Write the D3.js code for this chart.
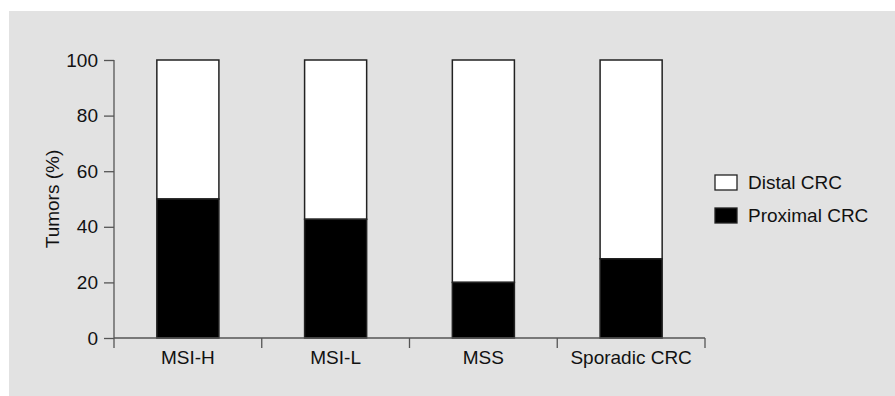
<!DOCTYPE html>
<html>
<head>
<meta charset="utf-8">
<script src="https://cdn.jsdelivr.net/npm/d3@7"></script>
<style>
  body { margin: 0; background: #fff; }
  text { font-family: "Liberation Sans", Arial, sans-serif; fill: #111; }
</style>
</head>
<body>
<div id="chart"></div>
<script>
// values (percent of tumors)
var groups = ["MSI-H", "MSI-L", "MSS", "Sporadic CRC"];
var proximal = [50, 42.7, 20, 28.5];
var distal = [50, 57.3, 80, 71.5];
var yTicks = [0, 20, 40, 60, 80, 100];
var seriesNames = ["Distal CRC", "Proximal CRC"];
var seriesColors = ["#fff", "#000"];

var width = 895, height = 396;
var fs = 19;
var svg = d3.select("#chart").append("svg")
    .attr("width", width)
    .attr("height", height);

// grey panel
svg.append("rect")
    .attr("x", 9).attr("y", 11)
    .attr("width", width - 9).attr("height", height - 11)
    .attr("fill", "#e2e2e2");

var x = d3.scaleBand().domain(groups).range([114, 705]).paddingInner(0.58).paddingOuter(0.29);
var xTicks = d3.scaleBand().domain(groups).range([114, 705]);
var y = d3.scaleLinear().domain([0, 100]).range([338, 60]);

// stacked data
var rows = groups.map(function (g, i) {
  return { group: g, prox: proximal[i], dist: distal[i] };
});

var bars = svg.append("g");
bars.selectAll(".dist")
    .data(rows)
    .enter().append("rect")
    .attr("x", d => x(d.group))
    .attr("width", x.bandwidth())
    .attr("y", d => y(d.prox + d.dist))
    .attr("height", d => y(d.prox) - y(d.prox + d.dist))
    .attr("fill", seriesColors[0])
    .attr("stroke", "#222")
    .attr("stroke-width", 1.5);
bars.selectAll(".prox")
    .data(rows)
    .enter().append("rect")
    .attr("x", d => x(d.group))
    .attr("width", x.bandwidth())
    .attr("y", d => y(d.prox))
    .attr("height", d => y(0) - y(d.prox))
    .attr("fill", seriesColors[1])
    .attr("stroke", "#222")
    .attr("stroke-width", 1.5);

// y axis
var yAxis = svg.append("g")
    .attr("transform", "translate(114,0)")
    .call(d3.axisLeft(y).tickValues(yTicks).tickSize(10).tickPadding(6));
yAxis.select(".domain").attr("d", "M0," + y(100) + "V" + (y(0) + 10));
yAxis.selectAll("line, path").attr("stroke", "#555").attr("stroke-width", 1.3);
yAxis.selectAll("text").attr("font-size", fs).attr("fill", "#111")
    .attr("font-family", "Liberation Sans, Arial, sans-serif");

// x axis: ticks at band boundaries
var xg = svg.append("g").attr("transform", "translate(0," + y(0) + ")");
xg.append("line")
    .attr("x1", 114).attr("x2", 705)
    .attr("stroke", "#555").attr("stroke-width", 1.3);
var edges = groups.map(g => xTicks(g)).concat([xTicks.range()[1]]);
xg.selectAll(".tk")
    .data(edges.slice(1))
    .enter().append("line")
    .attr("x1", d => d).attr("x2", d => d)
    .attr("y1", 0).attr("y2", 10)
    .attr("stroke", "#555").attr("stroke-width", 1.3);
xg.selectAll(".lbl")
    .data(groups)
    .enter().append("text")
    .attr("x", d => x(d) + x.bandwidth() / 2)
    .attr("y", 26)
    .attr("text-anchor", "middle")
    .attr("font-size", fs)
    .text(d => d);

// y label
svg.append("text")
    .attr("transform", "translate(59,199) rotate(-90)")
    .attr("text-anchor", "middle")
    .attr("font-size", fs)
    .text("Tumors (%)");

// legend
var legend = svg.append("g").attr("transform", "translate(715,175)");
legend.selectAll("rect")
    .data(seriesNames)
    .enter().append("rect")
    .attr("x", 0)
    .attr("y", (d, i) => i * 33)
    .attr("width", 22).attr("height", 15)
    .attr("fill", (d, i) => seriesColors[i])
    .attr("stroke", "#222").attr("stroke-width", 1.3);
legend.selectAll("text")
    .data(seriesNames)
    .enter().append("text")
    .attr("x", 33)
    .attr("y", (d, i) => i * 33 + 14)
    .attr("font-size", fs)
    .text(d => d);
</script>
</body>
</html>
